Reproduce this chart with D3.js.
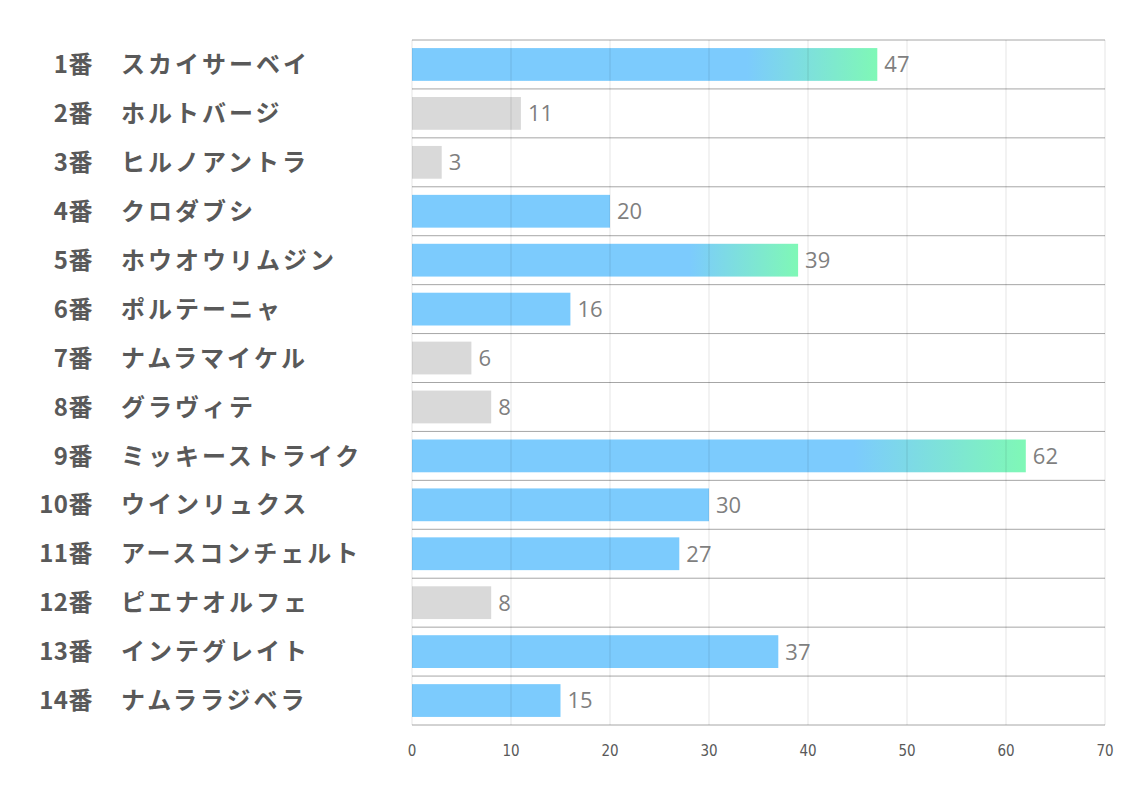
<!DOCTYPE html>
<html><head><meta charset="utf-8">
<script src="https://cdn.jsdelivr.net/npm/d3@7"></script>
<style>body{margin:0;background:#fff}</style>
</head><body>
<svg id="c" width="1134" height="793"></svg>
<script>
const numbers = ["1番","2番","3番","4番","5番","6番","7番","8番","9番","10番","11番","12番","13番","14番"];
const names = ["スカイサーベイ","ホルトバージ","ヒルノアントラ","クロダブシ","ホウオウリムジン","ポルテーニャ","ナムラマイケル","グラヴィテ","ミッキーストライク","ウインリュクス","アースコンチェルト","ピエナオルフェ","インテグレイト","ナムララジベラ"];
const values = [47,11,3,20,39,16,6,8,62,30,27,8,37,15];
const kinds = ["grad","gray","gray","blue","grad","blue","gray","gray","grad","blue","blue","gray","blue","blue"];
const ticks = [0,10,20,30,40,50,60,70];

const svg = d3.select("#c");
const pL = 412, pR = 1105, pT = 40, pB = 725;
const x = d3.scaleLinear().domain([0,70]).range([pL,pR]);
const y = d3.scaleBand().domain(d3.range(values.length)).range([pT,pB]).paddingInner(0.33).paddingOuter(0.165);

const defs = svg.append("defs");
values.forEach((v,i)=>{
  if(kinds[i]!=="grad") return;
  const g = defs.append("linearGradient").attr("id","g"+i).attr("x1","0").attr("x2","1").attr("y1","0").attr("y2","0");
  g.append("stop").attr("offset","0").attr("stop-color","#7ccbfd");
  g.append("stop").attr("offset","0.72").attr("stop-color","#7ccbfd");
  g.append("stop").attr("offset","1").attr("stop-color","#7ff8b6");
});

// row lines
const rowEdges = d3.range(values.length+1).map(i=> pT + (pB-pT)*i/values.length);
svg.append("g").selectAll("line").data(rowEdges).join("line")
  .attr("x1",pL).attr("x2",pR).attr("y1",d=>d).attr("y2",d=>d)
  .attr("stroke","#a6a6a6").attr("stroke-width",1);

// bars
svg.append("g").selectAll("rect").data(values).join("rect")
  .attr("x",x(0)).attr("y",(d,i)=>y(i)).attr("height",y.bandwidth())
  .attr("width",d=>x(d)-x(0))
  .attr("fill",(d,i)=>kinds[i]==="gray"?"#d9d9d9":kinds[i]==="blue"?"#7ccbfd":`url(#g${i})`);

// vertical gridlines on top
svg.append("g").selectAll("line").data(ticks).join("line")
  .attr("x1",d=>x(d)).attr("x2",d=>x(d)).attr("y1",pT).attr("y2",pB)
  .attr("stroke","#000").attr("stroke-opacity",0.1).attr("stroke-width",1);

// value labels
svg.append("g").selectAll("text").data(values).join("text")
  .attr("x",d=>x(d)+7).attr("y",(d,i)=>y(i)+y.bandwidth()/2)
  .attr("dy","0.36em").attr("fill","#7f7f7f")
  .style("font-family","'Open Sans','Noto Sans',sans-serif").style("font-size","22px")
  .text(d=>d);

// tick labels
svg.append("g").selectAll("text").data(ticks).join("text")
  .attr("x",d=>x(d)).attr("y",756).attr("text-anchor","middle").attr("fill","#595959")
  .style("font-family","'Liberation Sans Narrow','DejaVu Sans Condensed',sans-serif").style("font-size","15px")
  .text(d=>d);

// category labels
const lab = svg.append("g").style("font-family","'Noto Sans CJK JP',sans-serif").style("font-weight","bold").attr("fill","#595959");
lab.selectAll("text.n").data(numbers).join("text").attr("class","n")
  .attr("x",93).attr("y",(d,i)=>y(i)+y.bandwidth()/2).attr("dy","0.36em").attr("text-anchor","end")
  .style("font-size","24px").style("letter-spacing","0.5px").text(d=>d);
lab.selectAll("text.m").data(names).join("text").attr("class","m")
  .attr("x",121).attr("y",(d,i)=>y(i)+y.bandwidth()/2).attr("dy","0.36em")
  .style("font-size","24px").style("letter-spacing","3px").text(d=>d);
</script>
</body></html>
